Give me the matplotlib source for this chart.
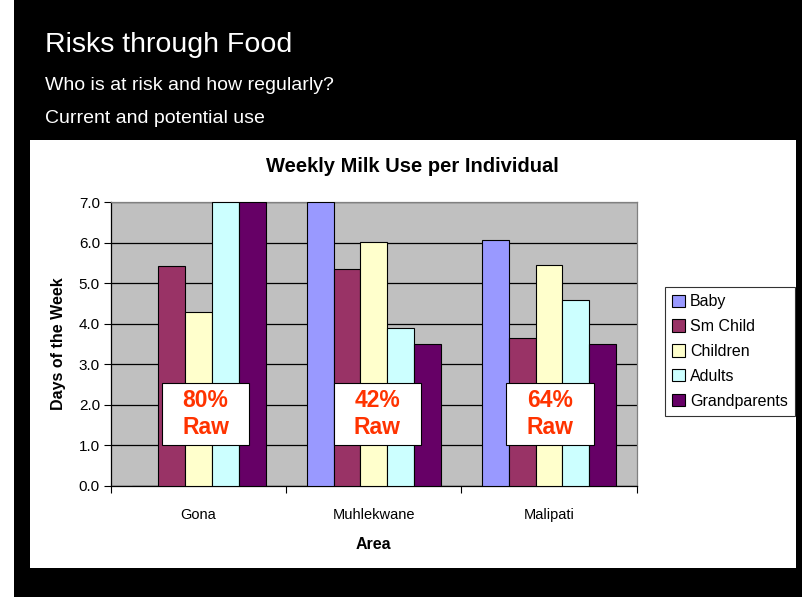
import matplotlib.pyplot as plt
from matplotlib.patches import Rectangle, Patch
import numpy as np

plt.rcParams['font.family'] = ['Liberation Sans', 'DejaVu Sans']

areas = ['Gona', 'Muhlekwane', 'Malipati']
groups = ['Baby', 'Sm Child', 'Children', 'Adults', 'Grandparents']
values = {
    'Baby': [0.0, 7.0, 6.07],
    'Sm Child': [5.43, 5.36, 3.65],
    'Children': [4.28, 6.02, 5.45],
    'Adults': [7.0, 3.9, 4.58],
    'Grandparents': [7.0, 3.5, 3.5],
}
colors = ['#9999FF', '#993366', '#FFFFCC', '#CCFFFF', '#660066']
raw_labels = ['80%\nRaw', '42%\nRaw', '64%\nRaw']

W, H = 803, 597
fig = plt.figure(figsize=(W / 100, H / 100), dpi=100, facecolor='black')

# white strip on the far left and the white chart panel
fig.patches.append(Rectangle((0, 0), 14 / W, 1, transform=fig.transFigure,
                             facecolor='white', edgecolor='none', zorder=-1))
fig.patches.append(Rectangle((30 / W, 1 - 568 / H), (796 - 30) / W, (568 - 140) / H,
                             transform=fig.transFigure, facecolor='white',
                             edgecolor='none', zorder=-1))

fig.text(45 / W, 1 - 45 / H, 'Risks through Food', color='white', fontsize=20.5, va='center')
fig.text(45 / W, 1 - 85 / H, 'Who is at risk and how regularly?', color='white', fontsize=14, va='center')
fig.text(45 / W, 1 - 119 / H, 'Current and potential use', color='white', fontsize=14, va='center')

ax = fig.add_axes([111 / W, 1 - 485.7 / H, (636.7 - 111) / W, (485.7 - 202.3) / H])
ax.set_facecolor('#C0C0C0')

x = np.arange(len(areas))
bw = 0.153
for j, g in enumerate(groups):
    ax.bar(x + (j - 2) * bw, values[g], width=bw, color=colors[j],
           edgecolor='black', linewidth=0.8, label=g, zorder=3)

ax.set_xlim(-0.5, 2.5)
ax.set_ylim(0, 7)
ax.set_yticks(np.arange(0, 7.1, 1))
ax.set_yticklabels(['%.1f' % v for v in np.arange(0, 7.1, 1)], fontsize=11)
ax.yaxis.grid(True, color='black', linewidth=0.9, zorder=1)
ax.set_axisbelow(True)
ax.tick_params(axis='y', length=5, width=0.8, pad=3)

ax.set_xticks(x)
ax.set_xticklabels(areas, fontsize=10.5)
ax.set_xticks([-0.5, 0.5, 1.5, 2.5], minor=True)
ax.tick_params(axis='x', which='major', length=0, pad=16)
ax.tick_params(axis='x', which='minor', length=5, width=0.8)

for s in ['left', 'bottom']:
    ax.spines[s].set_color('black')
    ax.spines[s].set_linewidth(0.9)
for s in ['top', 'right']:
    ax.spines[s].set_color('#808080')
    ax.spines[s].set_linewidth(0.9)

# chart title is centred on the whole chart panel, not the plot area
fig.text(412 / W, 1 - 166 / H, 'Weekly Milk Use per Individual', fontsize=14.5,
         fontweight='bold', ha='center', va='center')
ax.set_ylabel('Days of the Week', fontsize=11.5, fontweight='bold', labelpad=9)
ax.set_xlabel('Area', fontsize=11.5, fontweight='bold', labelpad=11)

# "% Raw" boxes
box_left = [-0.21, 0.77, 1.755]
for i, lab in enumerate(raw_labels):
    ax.add_patch(Rectangle((box_left[i], 1.0), 0.5, 1.53, facecolor='white',
                           edgecolor='black', linewidth=0.8, zorder=5))
    ax.text(box_left[i] + 0.25, 1.765, lab, color='#FF3300', fontsize=16.5,
            fontweight='bold', ha='center', va='center', linespacing=1.2, zorder=6)

handles = [Patch(facecolor=c, edgecolor='black', linewidth=0.8) for c in colors]
leg = fig.legend(handles, groups, loc='center left',
                 bbox_to_anchor=(665 / W, 1 - 351.5 / H), fontsize=11.5,
                 frameon=True, fancybox=False, edgecolor='black',
                 handlelength=0.8, handleheight=0.8, handletextpad=0.3,
                 labelspacing=0.62, borderpad=0.45, borderaxespad=0)
leg.get_frame().set_linewidth(0.8)

fig.savefig('out.png', dpi=100, facecolor='black')
